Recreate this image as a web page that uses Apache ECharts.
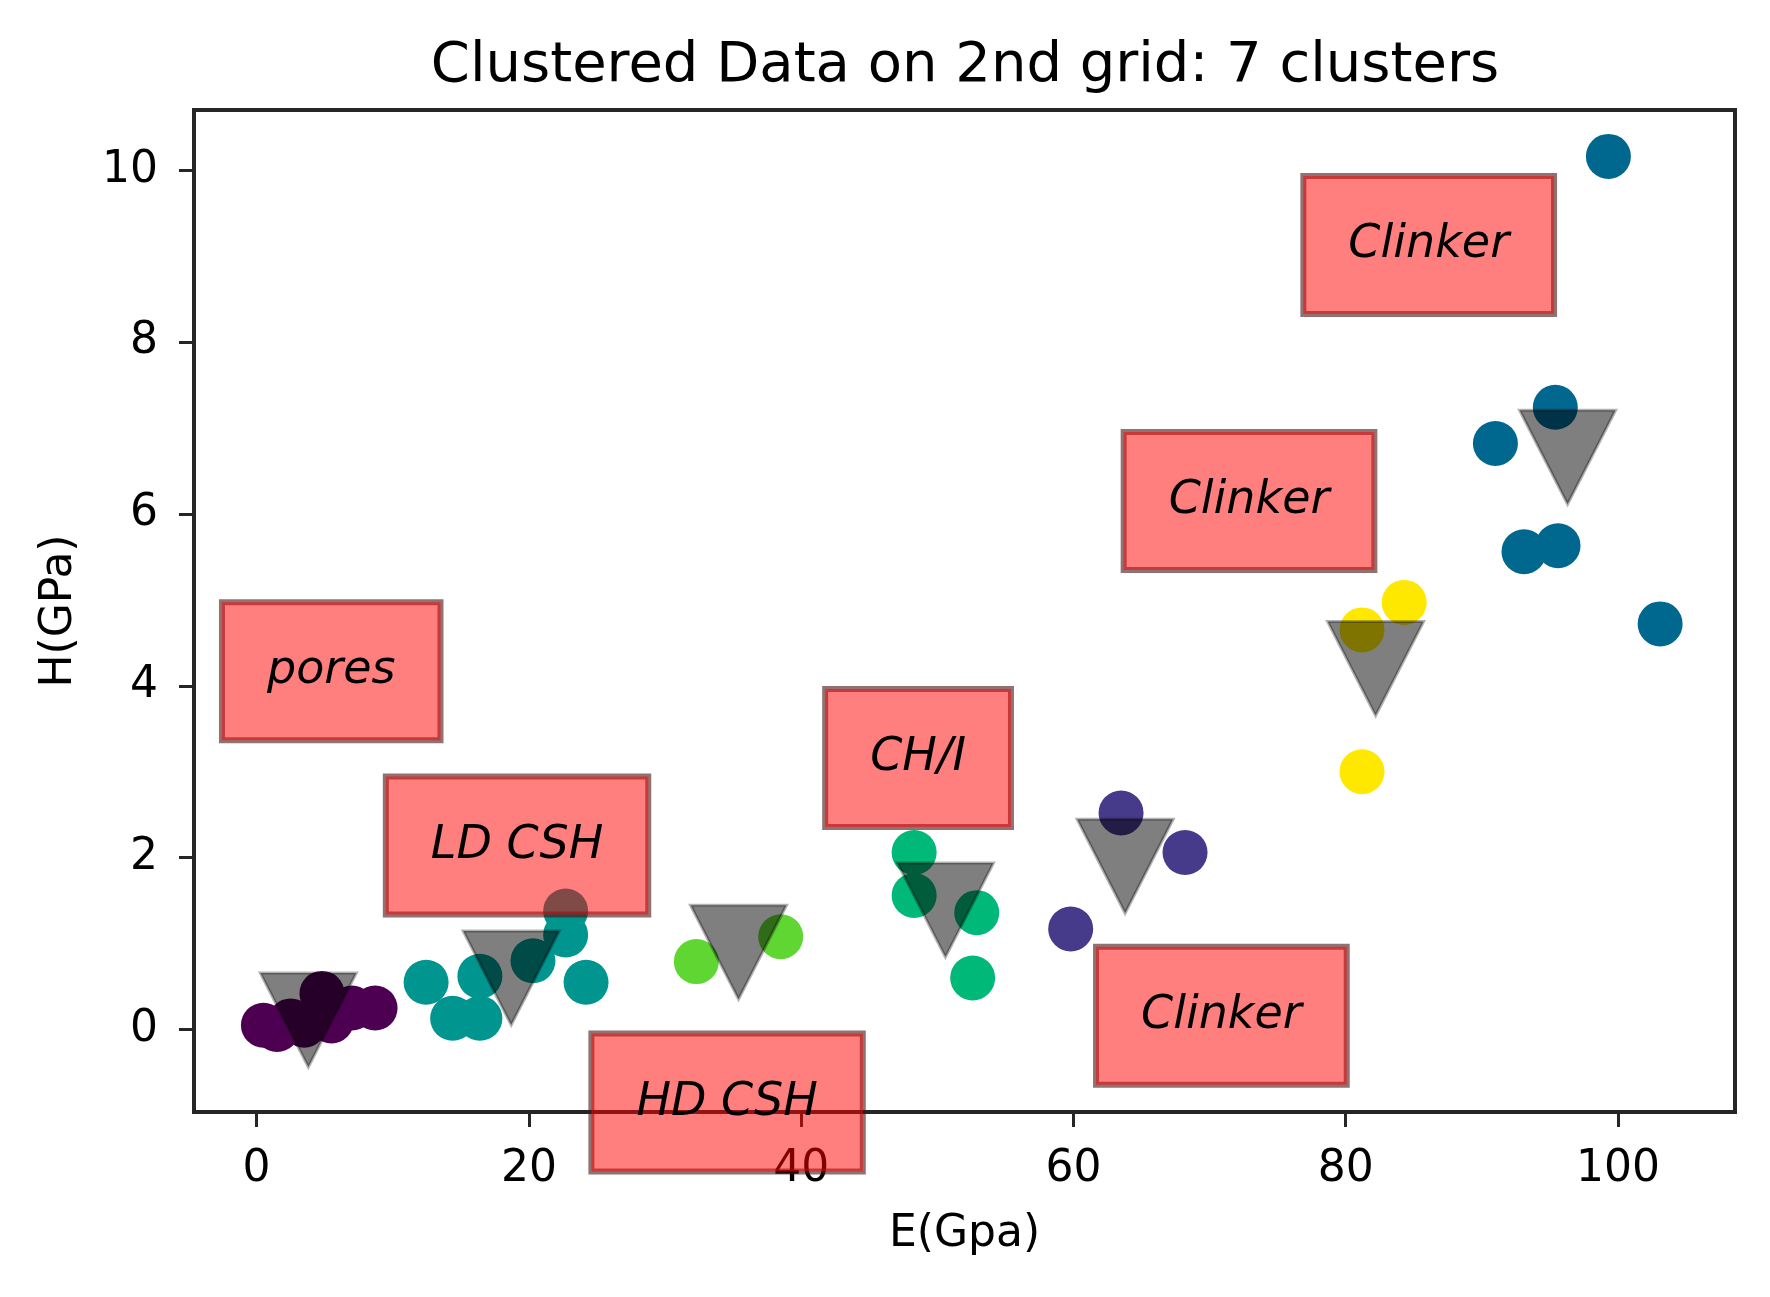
<!DOCTYPE html>
<html>
<head>
<meta charset="utf-8">
<script src="https://cdn.jsdelivr.net/npm/echarts@6/dist/echarts.min.js"></script>
<style>
html,body{margin:0;padding:0;background:#fff;}
#chart{width:1770px;height:1297px;}
</style>
</head>
<body>
<div id="chart"></div>
<script>
// ---- data ----
const titleText = 'Clustered Data on 2nd grid: 7 clusters';
const xTicks = [0, 20, 40, 60, 80, 100];
const yTicks = [0, 2, 4, 6, 8, 10];

// cluster points (E, H)
const c1E = [0.5, 1.5, 2.5, 3.5, 4.8, 5.5, 7.0, 8.7];
const c1H = [0.05, 0.0, 0.1, 0.05, 0.42, 0.1, 0.25, 0.25];
const c2E = [12.45, 14.4, 16.4, 16.4, 20.3, 22.7, 22.7, 24.2];
const c2H = [0.55, 0.13, 0.13, 0.62, 0.8, 1.38, 1.1, 0.55];
const c3E = [32.3, 38.5];
const c3H = [0.79, 1.08];
const c4E = [48.3, 48.3, 52.9, 52.6];
const c4H = [2.06, 1.56, 1.36, 0.6];
const c5E = [63.5, 68.2, 59.8];
const c5H = [2.52, 2.06, 1.17];
const c6E = [81.2, 84.3, 81.2];
const c6H = [4.65, 4.97, 3.0];
const c7E = [99.3, 95.4, 91.0, 93.1, 95.6, 103.1];
const c7H = [10.16, 7.24, 6.82, 5.56, 5.63, 4.72];

const clusterColors = ['#4d0051', '#00958f', '#5fd631', '#00b877', '#463a8b', '#ffe800', '#00678f'];

// cluster centres (triangles)
const centerE = [3.8, 18.7, 35.4, 50.6, 63.8, 82.2, 96.3];
const centerH = [0.11, 0.6, 0.9, 1.39, 1.9, 4.2, 6.66];

// annotation labels and their box centres
const labelTexts = ['pores', 'LD CSH', 'HD CSH', 'CH/I', 'Clinker', 'Clinker', 'Clinker'];
const labelE = [5.48, 19.13, 34.56, 48.59, 70.87, 72.9, 86.1];
const labelH = [4.17, 2.14, -0.85, 3.16, 0.16, 6.15, 9.13];

// ---- chart ----
const clustersE = [c1E, c2E, c3E, c4E, c5E, c6E, c7E];
const clustersH = [c1H, c2H, c3H, c4H, c5H, c6H, c7H];

const FONT = 'DejaVu Sans';
const series = [];
clustersE.forEach((es, i) => {
  series.push({
    type: 'scatter',
    name: 'cluster' + (i + 1),
    data: es.map((e, j) => [e, clustersH[i][j]]),
    symbol: 'circle',
    symbolSize: 45,
    itemStyle: { color: clusterColors[i], opacity: 1 },
    z: 2,
    silent: true
  });
});
series.push({
  type: 'scatter',
  name: 'centres',
  data: centerE.map((e, i) => [e, centerH[i]]),
  symbol: 'triangle',
  symbolRotate: 180,
  symbolSize: [96, 94],
  itemStyle: { color: 'rgba(0,0,0,0.5)', borderColor: 'rgba(0,0,0,0.3)', borderWidth: 3, opacity: 1 },
  z: 3,
  silent: true
});
series.push({
  type: 'scatter',
  name: 'labels',
  data: labelE.map((e, i) => ({ value: [e, labelH[i]], label: { formatter: labelTexts[i] } })),
  symbolSize: 1,
  itemStyle: { color: 'rgba(0,0,0,0)', opacity: 1 },
  clip: false,
  z: 10,
  silent: true,
  label: {
    show: true,
    position: 'inside',
    align: 'center',
    verticalAlign: 'middle',
    fontFamily: FONT,
    fontStyle: 'italic',
    fontSize: 46,
    lineHeight: 48,
    color: '#000',
    opacity: 1,
    backgroundColor: 'rgba(255,0,0,0.5)',
    borderColor: 'rgba(70,20,20,0.6)',
    borderWidth: 3,
    padding: [45, 45, 45, 45]
  }
});

const axisLineStyle = { color: '#262626', width: 4 };
const tickStyle = { color: '#262626', width: 3 };
const chart = echarts.init(document.getElementById('chart'), null, { renderer: 'canvas' });
chart.setOption({
  backgroundColor: '#fff',
  animation: false,
  title: {
    text: titleText,
    left: 960,
    top: 33,
    textAlign: 'center',
    textStyle: { fontFamily: FONT, fontSize: 56, fontWeight: 'normal', color: '#000' }
  },
  grid: {
    left: 194, right: 35, top: 110, bottom: 185,
    show: true, borderColor: '#262626', borderWidth: 4, backgroundColor: 'transparent'
  },
  xAxis: {
    type: 'value',
    min: -4.6, max: 108.6,
    name: 'E(Gpa)',
    nameLocation: 'middle',
    nameGap: 101,
    nameTextStyle: { fontFamily: FONT, fontSize: 44, color: '#000' },
    splitLine: { show: false },
    axisLine: { show: true, onZero: false, lineStyle: axisLineStyle },
    axisTick: { show: true, inside: false, length: 15, lineStyle: tickStyle, customValues: xTicks },
    axisLabel: { fontFamily: FONT, fontSize: 44, color: '#000', margin: 36, customValues: xTicks }
  },
  yAxis: {
    type: 'value',
    min: -0.96, max: 10.7,
    name: 'H(GPa)',
    nameLocation: 'middle',
    nameGap: 112,
    nameRotate: 90,
    nameTextStyle: { fontFamily: FONT, fontSize: 44, color: '#000' },
    splitLine: { show: false },
    axisLine: { show: true, onZero: false, lineStyle: axisLineStyle },
    axisTick: { show: true, inside: false, length: 15, lineStyle: tickStyle, customValues: yTicks },
    axisLabel: { fontFamily: FONT, fontSize: 44, color: '#000', margin: 36, customValues: yTicks }
  },
  series: series
});
</script>
</body>
</html>
